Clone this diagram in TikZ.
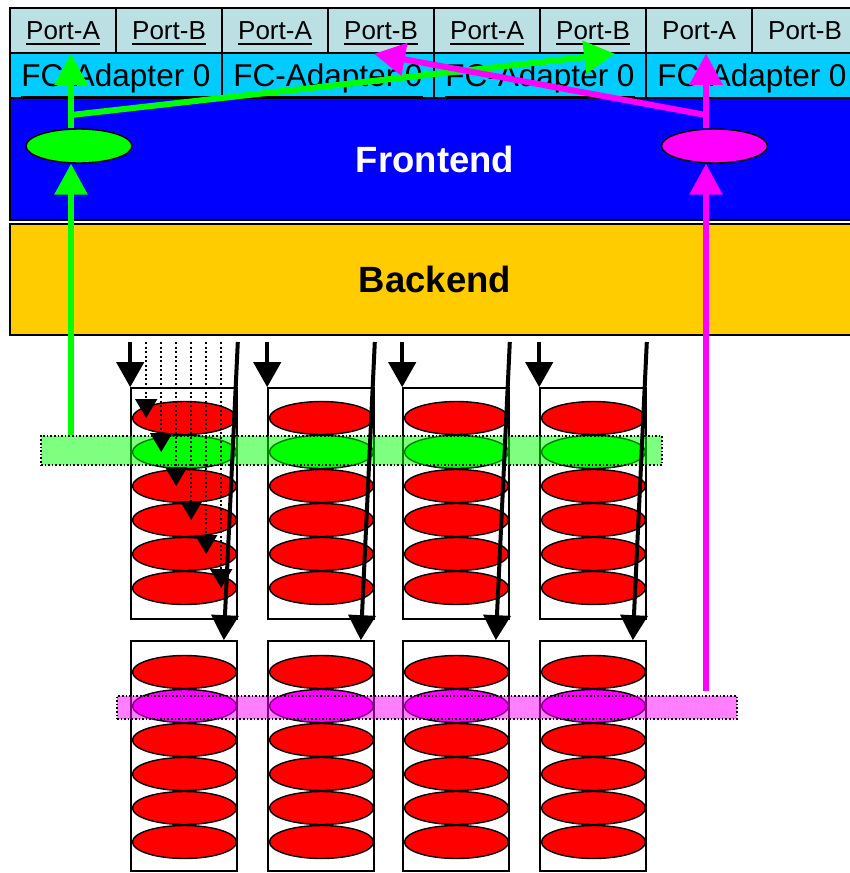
\documentclass[tikz,border=0pt]{standalone}
\usepackage{fontspec}
\setmainfont{Liberation Sans}
\usepackage{xcolor}
\usepackage{tikz}
\usetikzlibrary{arrows.meta,calc,shapes.geometric}

\definecolor{portgray}{RGB}{187,224,227}
\definecolor{adaptercyan}{RGB}{0,204,255}
\definecolor{backorange}{RGB}{255,204,0}
\definecolor{frontblue}{RGB}{0,0,255}
\definecolor{diskred}{RGB}{255,0,0}
\definecolor{selgreen}{RGB}{0,255,0}
\definecolor{selmagenta}{RGB}{255,0,255}

\newcommand{\ulbox}[1]{\vtop{\hbox{#1}\kern2.5pt\hrule height 2.4pt}}

\begin{document}
\begin{tikzpicture}[
    x=1pt, y=-1pt,
    port/.style={draw, line width=1.5pt, fill=portgray, minimum width=106pt, minimum height=45pt, inner sep=0pt, text height=18.6pt, text depth=0pt, font=\fontsize{26}{30}\selectfont},
    adapter/.style={draw, line width=1.5pt, fill=adaptercyan, minimum width=212pt, minimum height=45pt, inner sep=0pt, text height=22.5pt, text depth=0pt, font=\fontsize{31.5}{36}\selectfont},
    layer/.style={draw, line width=2pt, minimum width=850pt, inner sep=0pt, text height=26pt, text depth=0pt, font=\fontsize{36.5}{40}\selectfont\bfseries},
    column/.style={draw, line width=1.6pt, fill=white, minimum width=106pt, minimum height=231pt, inner sep=0pt},
    disk/.style={ellipse, draw, line width=1.4pt, minimum width=104pt, minimum height=33pt, inner sep=0pt},
    band/.style={draw, dotted, line width=1.6pt, fill opacity=0.5, inner sep=0pt},
    arr/.style={-{Triangle[length=25pt, width=27pt]}, line width=4pt},
    darr/.style={-{Triangle[length=19pt, width=22pt]}, line width=2pt, dash pattern=on 2pt off 2.5pt},
    garr/.style={-{Triangle[length=31pt, width=32pt]}, line width=6pt, selgreen},
    marr/.style={-{Triangle[length=31pt, width=32pt]}, line width=6pt, selmagenta}
]
\useasboundingbox (0,0) rectangle (850,873);
\clip (0,0) rectangle (850,873);

% frontend / backend
\node[layer, fill=frontblue, text=white, minimum height=122pt] (frontend) at (435,159) {Frontend};
\node[layer, fill=backorange, minimum height=111pt] (backend) at (435,279.5) {Backend};

% adapters and ports
\foreach \i/\x in {1/63, 2/275, 3/487, 4/699} {
    \ifnum\i<4
        \node[port] (portA\i) at (\x,30.5) {\ulbox{Port-A}};
        \node[port] (portB\i) at (\x+106,30.5) {\ulbox{Port-B}};
        \node[adapter] (adapter\i) at (\x+53,75.5) {\ulbox{FC-Adapter 0}};
    \else
        \node[port] (portA\i) at (\x,30.5) {Port-A};
        \node[port] (portB\i) at (\x+106,30.5) {Port-B};
        \node[adapter] (adapter\i) at (\x+53,75.5) {FC-Adapter 0};
    \fi
}

\node[disk, fill=selgreen, minimum width=106pt, minimum height=34pt] (selGreen) at (79,146) {};
\node[disk, fill=selmagenta, minimum width=106pt, minimum height=34pt] (selMagenta) at (714.5,146) {};

% disk columns
\foreach \c/\x in {1/184, 2/321, 3/456, 4/593} {
    \node[column] (upperCol\c) at (\x,503.5) {};
    \node[column, minimum height=230pt] (lowerCol\c) at (\x,756) {};
    \foreach \k in {1,...,6} {
        \ifnum\k=2 \def\uc{selgreen}\def\lc{selmagenta}\else\def\uc{diskred}\def\lc{diskred}\fi
        \node[disk, fill=\uc] (upperDisk\c-\k) at (\x+0.5,418+34*\k-34) {};
        \node[disk, fill=\lc] (lowerDisk\c-\k) at (\x+0.5,672+34*\k-34) {};
    }
}

\node[band, fill=selgreen, minimum width=621pt, minimum height=29pt] (bandGreen) at (351.5,450.5) {};
\node[band, fill=selmagenta, minimum width=620pt, minimum height=23pt] (bandMagenta) at (427,707.5) {};

% arrows from backend
\foreach \c in {1,...,4} {
    \draw[arr] ($(upperCol\c.north west |- backend.south)+(0,6)$) -- (upperCol\c.north west);
    \draw[arr] ($(upperCol\c.north east |- backend.south)+(0,6)$) -- ($(lowerCol\c.north east)+(-14,0)$);
}
\foreach \k in {1,...,6}
    \draw[darr] ($(upperCol1.north west |- backend.south)+(1+15*\k,6)$) -- ($(upperCol1.west |- upperDisk1-\k.center)+(1+15*\k,0)$);

% selection paths
\coordinate (greenX) at (71,0);
\coordinate (magentaX) at (706,0);
\coordinate (greenFork) at (71,115);
\coordinate (magentaFork) at (706,115);

\draw[garr] (greenX |- bandGreen.north) -- (greenX |- selGreen.south);
\draw[garr] (greenX |- selGreen.north) -- (greenX |- portA1.south);
\draw[garr] (greenFork) -- ([xshift=22pt]portB3.south);
\draw[marr] ($(magentaX |- bandMagenta.north)+(0,-4)$) -- (magentaX |- selMagenta.south);
\draw[marr] (magentaX |- selMagenta.north) -- (magentaX |- portA4.south);
\draw[marr] (magentaFork) -- ([xshift=-7pt]portB2.south);
\end{tikzpicture}
\end{document}
